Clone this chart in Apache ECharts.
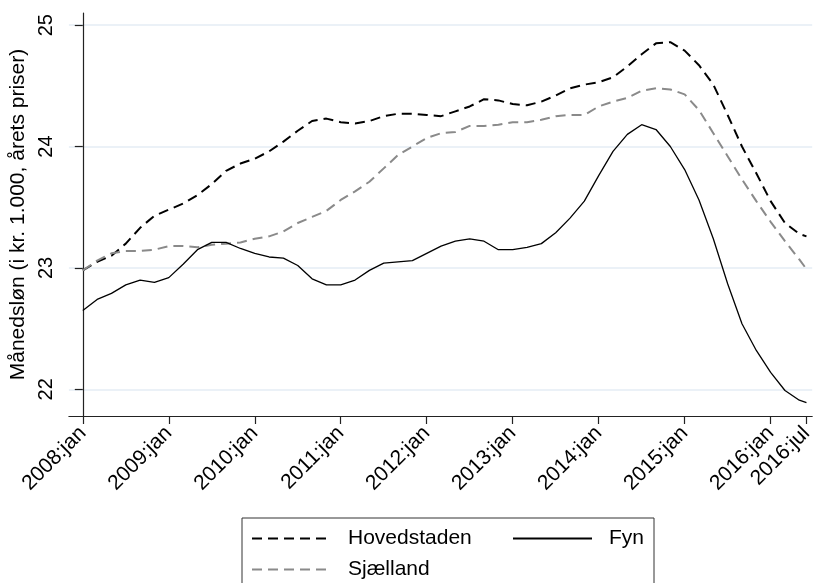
<!DOCTYPE html>
<html>
<head>
<meta charset="utf-8">
<script src="https://cdn.jsdelivr.net/npm/echarts@6/dist/echarts.min.js"></script>
<style>
  html, body { margin: 0; padding: 0; background: #fff; }
  #chart { width: 816px; height: 583px; }
</style>
</head>
<body>
<div id="chart"></div>
<script>
// måneder efter 2008:jan (sidste punkt = 2016:jul)
const months = [0, 2, 4, 6, 8, 10, 12, 14, 16, 18, 20, 22, 24, 26, 28, 30, 32, 34, 36, 38,
  40, 42, 44, 46, 48, 50, 52, 54, 56, 58, 60, 62, 64, 66, 68, 70, 72, 74, 76, 78,
  80, 82, 84, 86, 88, 90, 92, 94, 96, 98, 100, 101]

const hovedstaden = [22.98, 23.05, 23.10, 23.20, 23.33, 23.43, 23.48, 23.53, 23.60, 23.69,
  23.80, 23.86, 23.90, 23.96, 24.04, 24.13, 24.21, 24.23, 24.20, 24.19,
  24.21, 24.25, 24.27, 24.27, 24.26, 24.25, 24.29, 24.33, 24.39, 24.38,
  24.35, 24.34, 24.37, 24.42, 24.48, 24.51, 24.53, 24.57, 24.66, 24.76,
  24.85, 24.86, 24.79, 24.67, 24.51, 24.26, 24.00, 23.78, 23.55, 23.37, 23.28, 23.26]

const sjaelland = [22.98, 23.06, 23.12, 23.14, 23.14, 23.15, 23.18, 23.18, 23.17, 23.19,
  23.20, 23.21, 23.24, 23.26, 23.30, 23.37, 23.42, 23.47, 23.56, 23.63,
  23.71, 23.82, 23.93, 24.00, 24.07, 24.11, 24.12, 24.17, 24.17, 24.18,
  24.20, 24.20, 24.22, 24.25, 24.26, 24.26, 24.33, 24.37, 24.40, 24.46,
  24.48, 24.47, 24.43, 24.30, 24.11, 23.92, 23.73, 23.55, 23.38, 23.22, 23.07, 22.99]

const fyn = [22.65, 22.74, 22.79, 22.86, 22.90, 22.88, 22.92, 23.03, 23.15, 23.21,
  23.21, 23.16, 23.12, 23.09, 23.08, 23.02, 22.91, 22.86, 22.86, 22.90,
  22.98, 23.04, 23.05, 23.06, 23.12, 23.18, 23.22, 23.24, 23.22, 23.15,
  23.15, 23.17, 23.20, 23.29, 23.41, 23.55, 23.76, 23.96, 24.10, 24.18,
  24.14, 24.00, 23.81, 23.56, 23.24, 22.87, 22.54, 22.32, 22.14, 21.99, 21.91, 21.89]

const xTicks = [0, 12, 24, 36, 48, 60, 72, 84, 96, 101]
const xTickLabels = ['2008:jan', '2009:jan', '2010:jan', '2011:jan', '2012:jan',
  '2013:jan', '2014:jan', '2015:jan', '2016:jan', '2016:jul']
const yTicks = [22, 23, 24, 25]

const font = "'Liberation Sans', Arial, sans-serif"
const pairs = (ys) => months.map((m, i) => [m, ys[i]])

const myChart = echarts.init(document.getElementById('chart'))
const option = {
  animation: false,
  backgroundColor: '#fff',
  textStyle: { fontFamily: font, color: '#000' },
  grid: { left: 68, top: 13, right: 0, bottom: 167 },
  legend: {
    left: 242,
    top: 518,
    width: 440,
    padding: [10, 10, 12, 9],
    itemGap: 10,
    itemWidth: 79,
    itemHeight: 14,
    borderColor: '#333',
    borderWidth: 1,
    itemStyle: { opacity: 0 },
    data: ['Hovedstaden', 'Fyn', 'Sjælland'],
    formatter: function(name) {
      return name === 'Fyn' ? '{n|' + name + '}' : '{w|' + name + '}'
    },
    textStyle: {
      fontFamily: font,
      fontSize: 21,
      color: '#000',
      rich: {
        w: { width: 154, padding: [0, 0, 0, 12], fontSize: 21, lineHeight: 21, fontFamily: font },
        n: { padding: [0, 0, 0, 12], fontSize: 21, lineHeight: 21, fontFamily: font }
      }
    }
  },
  xAxis: {
    type: 'value',
    min: -1.94,
    max: 101.8,
    axisLine: { show: true, lineStyle: { color: '#222', width: 1.2 } },
    axisTick: { show: true, length: 8, customValues: xTicks, lineStyle: { color: '#222', width: 1.2 } },
    axisLabel: {
      customValues: xTicks,
      rotate: 45,
      margin: 14,
      fontSize: 21,
      fontFamily: font,
      color: '#000',
      formatter: function(v) {
        return xTickLabels[xTicks.indexOf(v)]
      }
    },
    splitLine: { show: false }
  },
  yAxis: {
    type: 'value',
    min: 21.78,
    max: 25.1,
    name: 'Månedsløn (i kr. 1.000, årets priser)',
    nameLocation: 'middle',
    nameGap: 38,
    nameTextStyle: { fontSize: 21, fontFamily: font, color: '#000' },
    axisLine: { show: true, lineStyle: { color: '#222', width: 1.2 } },
    axisTick: { show: true, length: 8, customValues: yTicks, lineStyle: { color: '#222', width: 1.2 } },
    axisLabel: {
      customValues: yTicks,
      rotate: 90,
      margin: 12,
      fontSize: 20,
      fontFamily: font,
      color: '#000'
    },
    splitLine: { show: true, lineStyle: { color: '#e4edf5', width: 1.5 } }
  },
  series: [
    {
      name: 'Hovedstaden',
      type: 'line',
      symbol: 'none',
      clip: false,
      lineStyle: { color: '#000', width: 2, type: [10, 6] },
      itemStyle: { color: '#000' },
      data: pairs(hovedstaden)
    },
    {
      name: 'Sjælland',
      type: 'line',
      symbol: 'none',
      clip: false,
      lineStyle: { color: '#8a8a8a', width: 2, type: [10, 6] },
      itemStyle: { color: '#8a8a8a' },
      data: pairs(sjaelland)
    },
    {
      name: 'Fyn',
      type: 'line',
      symbol: 'none',
      clip: false,
      lineStyle: { color: '#000', width: 1.3 },
      itemStyle: { color: '#000' },
      data: pairs(fyn)
    }
  ]
}
myChart.setOption(option)
</script>
</body>
</html>
